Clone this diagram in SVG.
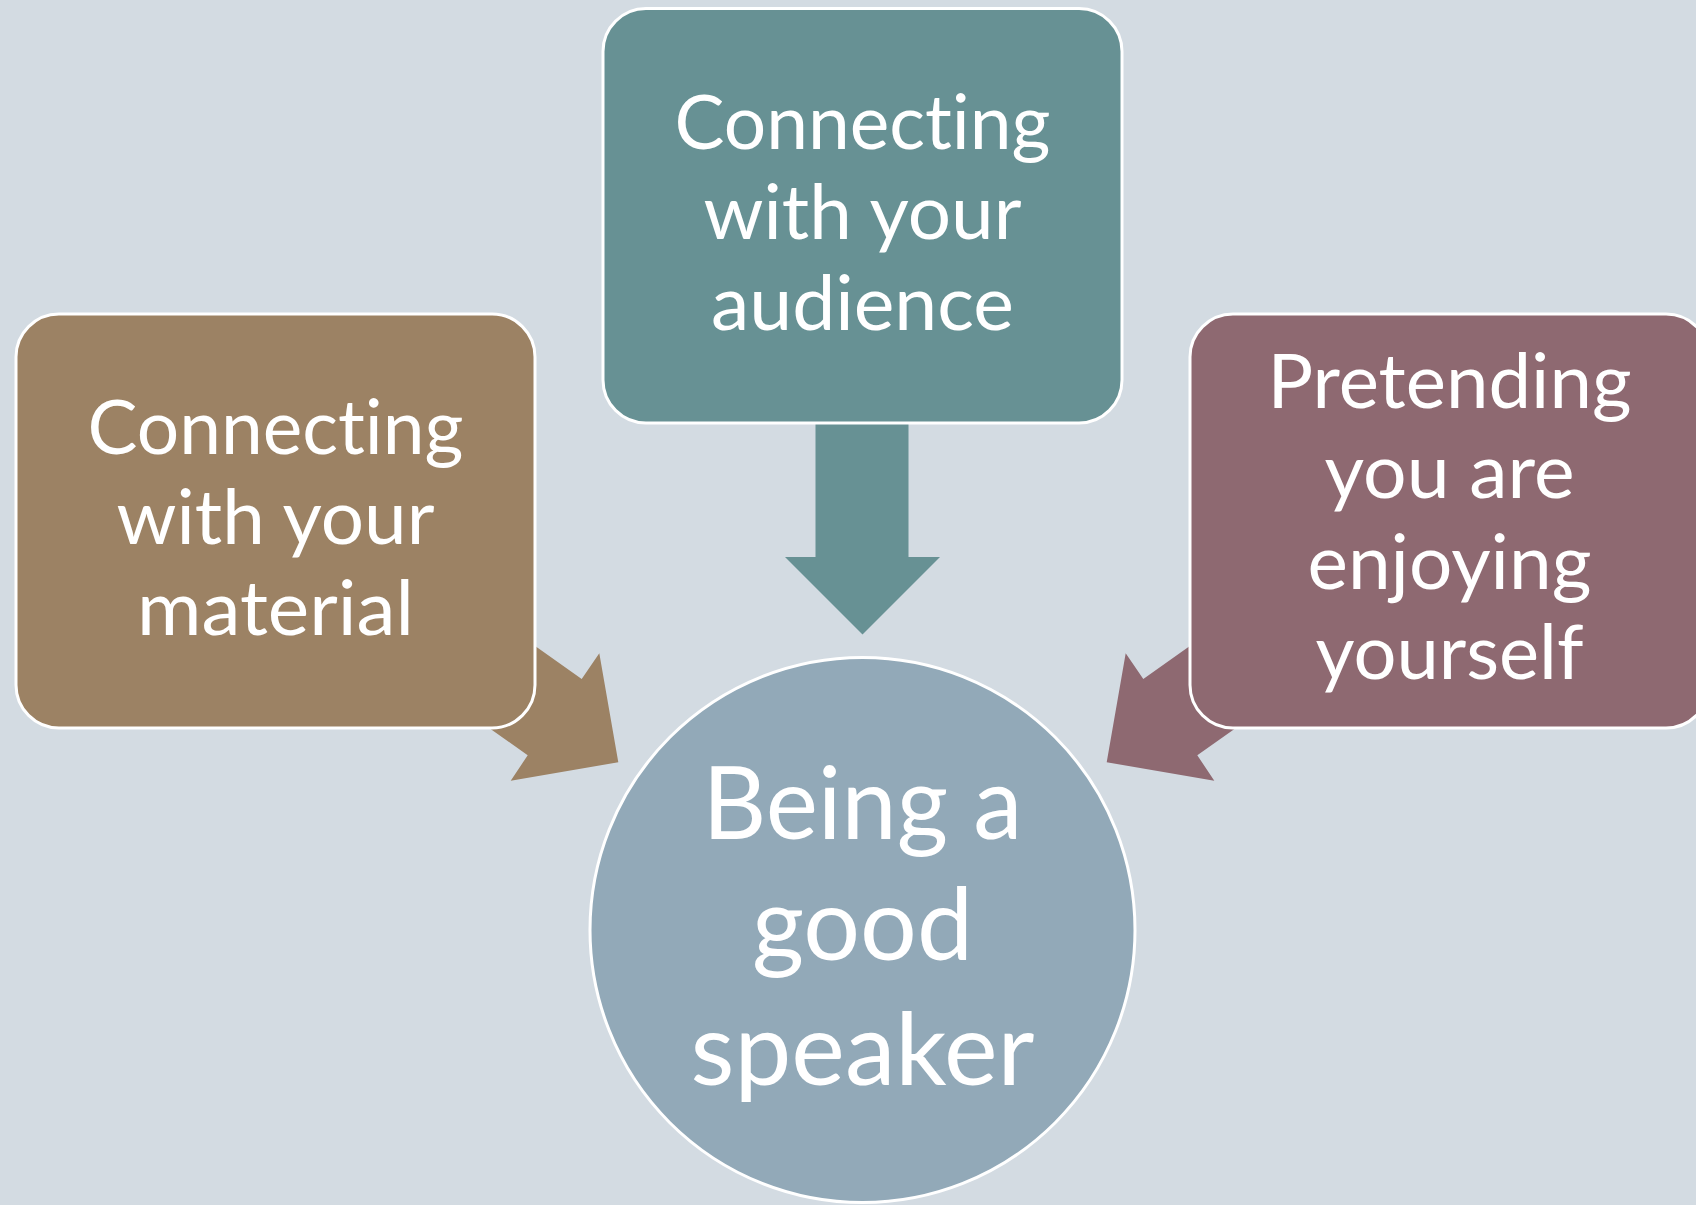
<svg xmlns="http://www.w3.org/2000/svg" width="1696" height="1205" viewBox="0 0 1696 1205">
<style>
.bg{fill:#D3DBE2}
.box{stroke:#FFFFFF;stroke-width:3}
.teal{fill:#679194}
.brown{fill:#9C8264}
.mauve{fill:#8E6971}
.circ{fill:#92A9B8;stroke:#FFFFFF;stroke-width:3}
.t{font-family:Lato,"Open Sans","Liberation Sans",sans-serif;fill:#FFFFFF;text-anchor:middle;font-variant-ligatures:none;font-feature-settings:"liga" 0,"clig" 0,"dlig" 0}
.s{font-size:76px}
.l{font-size:100px}
</style>
<rect class="bg" x="0" y="0" width="1696" height="1205"/>
<g id="connectors">
  <polygon class="teal" points="815.5,424 908.5,424 908.5,557 940,557 862.5,634.5 785,557 815.5,557"/>
  <polygon class="brown" points="483.7,609.6 581.7,679 599.3,653.3 618.3,762.3 510.7,780.7 527.7,755.3 429.7,685.9"/>
  <polygon class="mauve" points="1241.3,609.6 1143.3,679 1125.7,653.3 1106.7,762.3 1214.3,780.7 1197.3,755.3 1295.3,685.9"/>
</g>
<g id="node-audience">
  <rect class="box teal" x="603" y="8.5" width="519" height="414.5" rx="43" ry="43"/>
  <text class="t s" x="862.5" y="149" textLength="376" lengthAdjust="spacingAndGlyphs">Connecting</text>
  <text class="t s" x="862.5" y="239" textLength="318" lengthAdjust="spacingAndGlyphs">with your</text>
  <text class="t s" x="862.5" y="330" textLength="303" lengthAdjust="spacingAndGlyphs">audience</text>
</g>
<g id="node-material">
  <rect class="box brown" x="16" y="314" width="519" height="414" rx="43" ry="43"/>
  <text class="t s" x="275.5" y="454" textLength="376" lengthAdjust="spacingAndGlyphs">Connecting</text>
  <text class="t s" x="275.5" y="544" textLength="318" lengthAdjust="spacingAndGlyphs">with your</text>
  <text class="t s" x="275.5" y="635" textLength="277" lengthAdjust="spacingAndGlyphs">material</text>
</g>
<g id="node-enjoying">
  <rect class="box mauve" x="1190" y="314" width="519" height="414" rx="43" ry="43"/>
  <text class="t s" x="1449.5" y="408" textLength="364" lengthAdjust="spacingAndGlyphs">Pretending</text>
  <text class="t s" x="1449.5" y="498" textLength="250" lengthAdjust="spacingAndGlyphs">you are</text>
  <text class="t s" x="1449.5" y="589" textLength="284" lengthAdjust="spacingAndGlyphs">enjoying</text>
  <text class="t s" x="1449.5" y="679" textLength="268" lengthAdjust="spacingAndGlyphs">yourself</text>
</g>
<g id="node-speaker">
  <circle class="circ" cx="862.5" cy="930" r="272.5"/>
  <text class="t l" x="862.5" y="839" textLength="320" lengthAdjust="spacingAndGlyphs">Being a</text>
  <text class="t l" x="862.5" y="960" textLength="221" lengthAdjust="spacingAndGlyphs">good</text>
  <text class="t l" x="862.5" y="1085" textLength="344" lengthAdjust="spacingAndGlyphs">speaker</text>
</g>
</svg>
